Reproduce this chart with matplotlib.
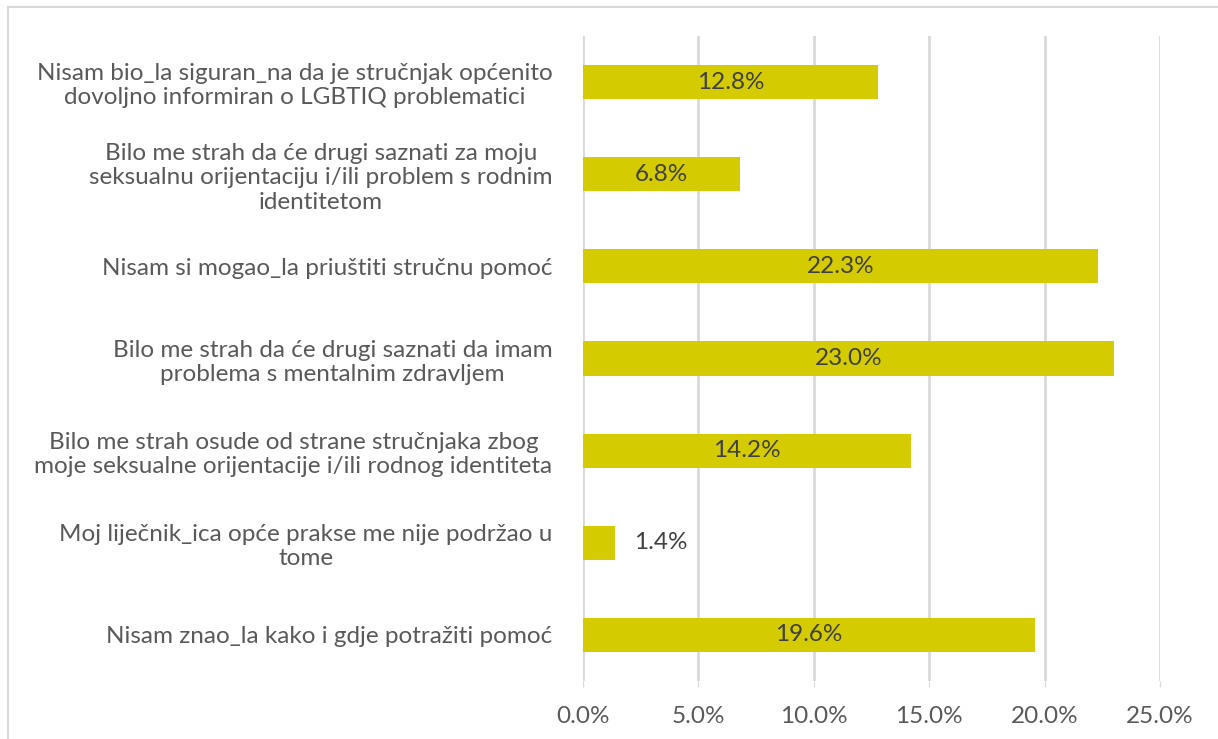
import matplotlib
matplotlib.use('Agg')
from matplotlib import pyplot as plt
from matplotlib.ticker import FuncFormatter

categories = [
    'Nisam bio_la siguran_na da je stručnjak općenito\ndovoljno informiran o LGBTIQ problematici',
    'Bilo me strah da će drugi saznati za moju\nseksualnu orijentaciju i/ili problem s rodnim\nidentitetom',
    'Nisam si mogao_la priuštiti stručnu pomoć',
    'Bilo me strah da će drugi saznati da imam\nproblema s mentalnim zdravljem',
    'Bilo me strah osude od strane stručnjaka zbog\nmoje seksualne orijentacije i/ili rodnog identiteta',
    'Moj liječnik_ica opće prakse me nije podržao u\ntome',
    'Nisam znao_la kako i gdje potražiti pomoć',
]
values = [12.8, 6.8, 22.3, 23.0, 14.2, 1.4, 19.6]
ticks = [0, 5, 10, 15, 20, 25]

plt.rcParams['font.family'] = ['Lato', 'DejaVu Sans']
bar_color = '#D4CC00'
text_color = '#595959'
fs = 17.5

fig = plt.figure(figsize=(12.18, 7.39), dpi=100)
ax = fig.add_axes([583/1218, 1 - 681/739, (1160 - 583)/1218, (681 - 36)/739])

pos = list(range(len(values)))
ax.barh(pos, values, height=0.37, color=bar_color, zorder=3)
ax.set_ylim(len(values) - 0.5, -0.5)
ax.set_xlim(0, 25)
ax.set_xticks(ticks)
ax.xaxis.set_major_formatter(FuncFormatter(lambda v, p: f'{v:.1f}%'))
ax.set_yticks(pos)
ax.set_yticklabels(categories, fontsize=fs, color=text_color, linespacing=1.2,
                   multialignment='center')
ax.tick_params(axis='y', length=0, pad=22)
ax.tick_params(axis='x', length=4, color='#D9D9D9', labelsize=fs,
               labelcolor=text_color, pad=14)

ax.grid(axis='x', color='#D9D9D9', linewidth=2, zorder=0)
for s in ax.spines.values():
    s.set_visible(False)

for i, v in enumerate(values):
    if v < 3:
        ax.text(v + 0.8, i, f'{v:.1f}%', va='center', ha='left', fontsize=fs,
                color='#404040', zorder=4)
    else:
        ax.text(v / 2, i, f'{v:.1f}%', va='center', ha='center', fontsize=fs,
                color='#404040', zorder=4)

# outer frame
fig.patches.append(plt.Rectangle((8/1218, -0.01), 1.2, 1 - 7/739 + 0.01,
                                 transform=fig.transFigure, fill=False,
                                 edgecolor='#D9D9D9', linewidth=1.5))

fig.savefig('out.png', dpi=100)
